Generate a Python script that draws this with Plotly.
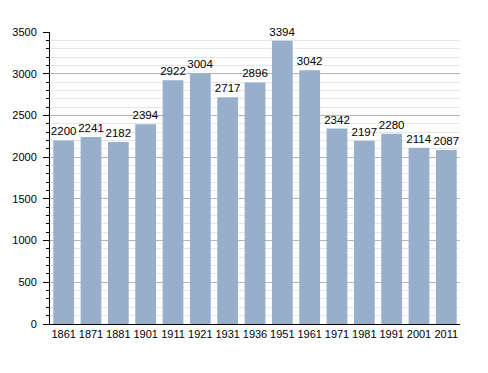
import plotly.graph_objects as go

years = ["1861", "1871", "1881", "1901", "1911", "1921", "1931", "1936",
         "1951", "1961", "1971", "1981", "1991", "2001", "2011"]
population = [2200, 2241, 2182, 2394, 2922, 3004, 2717, 2896,
              3394, 3042, 2342, 2197, 2280, 2114, 2087]
y_ticks = [0, 500, 1000, 1500, 2000, 2500, 3000, 3500]

fig = go.Figure()
fig.add_trace(go.Bar(
    x=years, y=population,
    marker=dict(color="#97afcb", line=dict(width=0)),
    text=[str(v) for v in population],
    textposition="outside",
    constraintext="none",
    textfont=dict(family="Liberation Sans, Arial", size=11.5, color="#000"),
    cliponaxis=False,
))
fig.update_layout(
    width=472, height=357,
    margin=dict(l=42, r=20, t=24, b=41, autoexpand=False),
    paper_bgcolor="white", plot_bgcolor="white",
    bargap=0.24,
    showlegend=False,
    font=dict(family="Liberation Sans, Arial", size=11, color="#000"),
)
fig.update_yaxes(
    range=[0, 3500], tickvals=y_ticks, ticktext=[str(t) for t in y_ticks],
    showgrid=True, gridcolor="#b4b4b4", gridwidth=1,
    showline=True, linecolor="#000", linewidth=1,
    ticks="outside", ticklen=6, tickcolor="#000",
    ticklabelstandoff=4,
    minor=dict(dtick=100, showgrid=True, gridcolor="#e6e6e6", gridwidth=1,
               ticks="outside", ticklen=3, tickcolor="#000"),
    zeroline=False, automargin=False,
)
fig.update_xaxes(
    showline=True, linecolor="#000", linewidth=1,
    ticks="", showgrid=False, automargin=False,
)
fig.write_html("out.html")
